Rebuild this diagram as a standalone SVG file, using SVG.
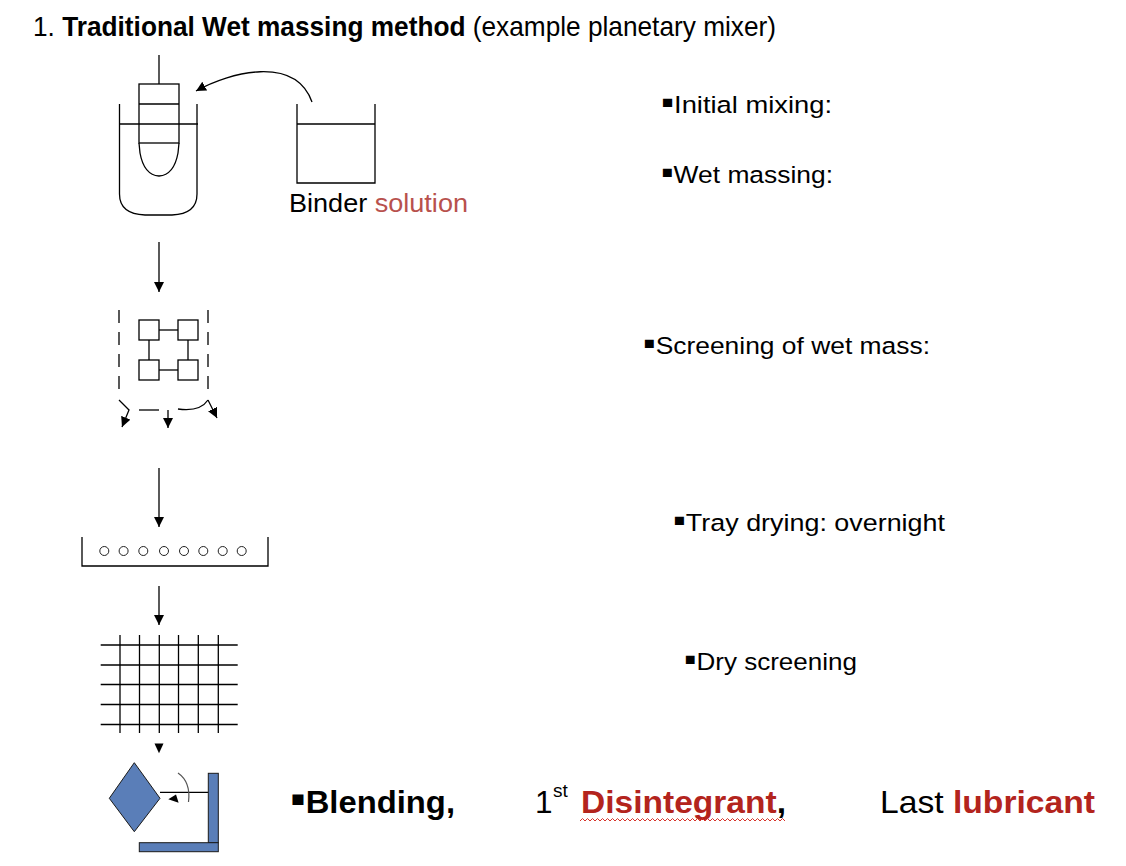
<svg xmlns="http://www.w3.org/2000/svg" width="1126" height="866" viewBox="0 0 1126 866">
<style>
.ln{fill:none;stroke:#000;stroke-width:1.3}
.thin{fill:none;stroke:#222;stroke-width:1}
.dash{fill:none;stroke:#000;stroke-width:1.3;stroke-dasharray:13,9}
.t{font-family:"Liberation Sans","Noto Sans",Arial,sans-serif;fill:#000}
.lbl{font-size:24.5px}
.bul{font-size:1.35em}
.blue{fill:#5a7eb8;stroke:#1a1a1a;stroke-width:1}
.red{fill:#b3241d}
.rose{fill:#b8514d}
.ah{fill:#000}
</style>
<defs>
<marker id="arr" markerUnits="userSpaceOnUse" markerWidth="10" markerHeight="10" refX="10" refY="5" orient="auto" viewBox="0 0 10 10">
<path d="M0,0 L10,5 L0,10 z" fill="#000"/>
</marker>
</defs>
<rect width="1126" height="866" fill="#fff"/>

<text id="title" class="t" x="33" y="36" font-size="28" textLength="743" lengthAdjust="spacingAndGlyphs">1. <tspan font-weight="bold">Traditional Wet massing method</tspan> (example planetary mixer)</text>

<g id="mixer">
<path class="ln" d="M119.5,104 L119.5,194 Q119.5,214 145,215 L172,215 Q197,214 197,194 L197,104"/>
<line class="ln" x1="119.5" y1="124" x2="198" y2="124"/>
<line class="ln" x1="159" y1="55" x2="159" y2="84"/>
<rect class="ln" x="139" y="84" width="40" height="59"/>
<line class="ln" x1="139" y1="104" x2="179" y2="104"/>
<path class="ln" d="M139,143 L140,153 Q144,175 159,176 Q174,175 178,153 L179,143"/>
</g>

<g id="binder">
<path class="ln" d="M297,104 L297,183 L375,183 L375,104"/>
<line class="ln" x1="297" y1="124" x2="375" y2="124"/>
<text class="t" x="289" y="211.5" font-size="25.5" textLength="179" lengthAdjust="spacingAndGlyphs">Binder <tspan class="rose">solution</tspan></text>
</g>

<g id="wet-screen">
<line class="dash" x1="119" y1="310" x2="119" y2="392"/>
<line class="dash" x1="208" y1="310" x2="208" y2="392"/>
<rect class="ln" x="139" y="320" width="20" height="20"/>
<rect class="ln" x="178" y="320" width="20" height="20"/>
<rect class="ln" x="139" y="360" width="20" height="20"/>
<rect class="ln" x="178" y="360" width="20" height="20"/>
<line class="ln" x1="159" y1="330" x2="178" y2="330"/>
<line class="ln" x1="159" y1="370" x2="178" y2="370"/>
<line class="ln" x1="149" y1="340" x2="149" y2="360"/>
<line class="ln" x1="188" y1="340" x2="188" y2="360"/>
<line class="ln" x1="139" y1="410" x2="159" y2="410"/>
<path class="ln" d="M178,409 Q200,412 208,400"/>
<path class="ln" d="M119,400 L129,410 L122,427" marker-end="url(#arr)"/>
<line class="ln" x1="168" y1="410" x2="168" y2="428" marker-end="url(#arr)"/>
<line class="ln" x1="208" y1="400" x2="217" y2="418" marker-end="url(#arr)"/>
</g>

<g id="tray">
<path class="ln" d="M82,537 L82,566 L268,566 L268,537"/>
<g class="thin">
<circle cx="104.3" cy="551" r="4.5"/>
<circle cx="123.6" cy="551" r="4.5"/>
<circle cx="143.3" cy="551" r="4.5"/>
<circle cx="164" cy="551" r="4.5"/>
<circle cx="184" cy="551" r="4.5"/>
<circle cx="203.3" cy="551" r="4.5"/>
<circle cx="222.7" cy="551" r="4.5"/>
<circle cx="241.7" cy="551" r="4.5"/>
</g>
</g>

<g id="dry-screen" class="ln">
<line x1="100.7" y1="645" x2="237.7" y2="645"/>
<line x1="100.7" y1="665" x2="237.7" y2="665"/>
<line x1="100.7" y1="684.5" x2="237.7" y2="684.5"/>
<line x1="100.7" y1="704.5" x2="237.7" y2="704.5"/>
<line x1="100.7" y1="724.5" x2="237.7" y2="724.5"/>
<line x1="120" y1="635" x2="120" y2="733"/>
<line x1="139.5" y1="635" x2="139.5" y2="733"/>
<line x1="159.3" y1="635" x2="159.3" y2="733"/>
<line x1="178.5" y1="635" x2="178.5" y2="733"/>
<line x1="198.3" y1="635" x2="198.3" y2="733"/>
<line x1="218.3" y1="635" x2="218.3" y2="733"/>
</g>

<g id="blender">
<polygon class="blue" points="109.3,798.3 134.3,762.7 160,798.3 134.3,831.7"/>
<line class="ln" x1="160" y1="792.3" x2="208.3" y2="792.3"/>
<rect class="blue" x="208.3" y="773.3" width="10" height="69.4"/>
<rect class="blue" x="139.3" y="842.7" width="79" height="9"/>
<path d="M178,773 Q191,782 188.5,802" fill="none" stroke="#555" stroke-width="1.2"/>
<polygon class="ah" points="176,794.5 168.3,799.3 178.6,802.7"/>
</g>

<g id="connectors">
<path class="ln" d="M312,102 C295,55 230,72 196,91" marker-end="url(#arr)"/>
<line class="ln" x1="159" y1="242" x2="159" y2="292" marker-end="url(#arr)"/>
<line class="ln" x1="159" y1="468" x2="159" y2="527" marker-end="url(#arr)"/>
<line class="ln" x1="159" y1="586" x2="159" y2="625" marker-end="url(#arr)"/>
<polygon class="ah" points="154.5,743.5 163.5,743.5 159,753.3"/>
</g>

<g id="steps">
<text class="t lbl" x="661" y="113.3" textLength="171" lengthAdjust="spacingAndGlyphs"><tspan class="bul">▪</tspan>Initial mixing:</text>
<text class="t lbl" x="661" y="183.3" textLength="172" lengthAdjust="spacingAndGlyphs"><tspan class="bul">▪</tspan>Wet massing:</text>
<text class="t lbl" x="643" y="353.5" textLength="287" lengthAdjust="spacingAndGlyphs"><tspan class="bul">▪</tspan>Screening of wet mass:</text>
<text class="t lbl" x="673" y="530.5" textLength="272" lengthAdjust="spacingAndGlyphs"><tspan class="bul">▪</tspan>Tray drying: overnight</text>
<text class="t lbl" x="684" y="670" textLength="173" lengthAdjust="spacingAndGlyphs"><tspan class="bul">▪</tspan>Dry screening</text>
</g>

<g id="blending-label">
<text class="t" x="290" y="812.5" font-size="31.5" font-weight="bold" textLength="165" lengthAdjust="spacingAndGlyphs"><tspan class="bul">▪</tspan>Blending,</text>
<text class="t" x="535" y="812.5" font-size="31.5">1</text>
<text class="t" x="553" y="797" font-size="19">st</text>
<text class="t" x="581" y="812.5" font-size="31.5" font-weight="bold" textLength="205" lengthAdjust="spacingAndGlyphs"><tspan class="red">Disintegrant</tspan>,</text>
<text class="t" x="880" y="812.5" font-size="31.5" textLength="215" lengthAdjust="spacingAndGlyphs">Last <tspan class="red" font-weight="bold">lubricant</tspan></text>
<path d="M580,821 l2.5,-2.5 2.5,2.5 2.5,-2.5 2.5,2.5 2.5,-2.5 2.5,2.5 2.5,-2.5 2.5,2.5 2.5,-2.5 2.5,2.5 2.5,-2.5 2.5,2.5 2.5,-2.5 2.5,2.5 2.5,-2.5 2.5,2.5 2.5,-2.5 2.5,2.5 2.5,-2.5 2.5,2.5 2.5,-2.5 2.5,2.5 2.5,-2.5 2.5,2.5 2.5,-2.5 2.5,2.5 2.5,-2.5 2.5,2.5 2.5,-2.5 2.5,2.5 2.5,-2.5 2.5,2.5 2.5,-2.5 2.5,2.5 2.5,-2.5 2.5,2.5 2.5,-2.5 2.5,2.5 2.5,-2.5 2.5,2.5 2.5,-2.5 2.5,2.5 2.5,-2.5 2.5,2.5 2.5,-2.5 2.5,2.5 2.5,-2.5 2.5,2.5 2.5,-2.5 2.5,2.5 2.5,-2.5 2.5,2.5 2.5,-2.5 2.5,2.5 2.5,-2.5 2.5,2.5 2.5,-2.5 2.5,2.5 2.5,-2.5 2.5,2.5 2.5,-2.5 2.5,2.5 2.5,-2.5 2.5,2.5 2.5,-2.5 2.5,2.5 2.5,-2.5 2.5,2.5 2.5,-2.5 2.5,2.5 2.5,-2.5 2.5,2.5 2.5,-2.5 2.5,2.5 2.5,-2.5 2.5,2.5 2.5,-2.5 2.5,2.5 2.5,-2.5 2.5,2.5 2.5,-2.5 2.5,2.5" fill="none" stroke="#d6322a" stroke-width="1"/>
</g>
</svg>
